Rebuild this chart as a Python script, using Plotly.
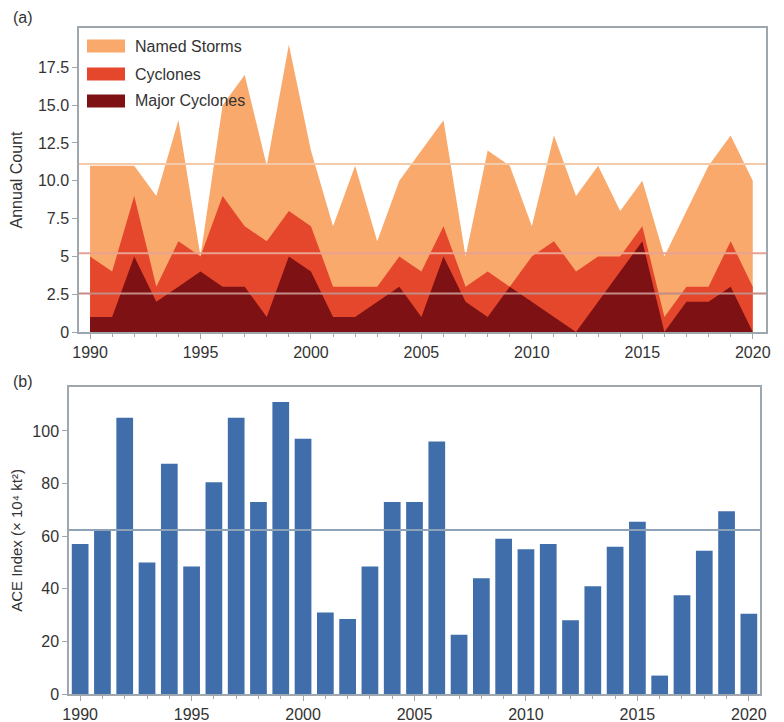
import plotly.graph_objects as go

years = list(range(1990, 2021))
named_storms = [11, 11, 11, 9, 14, 5, 15, 17, 11, 19, 12, 7, 11, 6, 10, 12, 14, 5, 12, 11,
                7, 13, 9, 11, 8, 10, 5, 8, 11, 13, 10]
cyclones = [5, 4, 9, 3, 6, 5, 9, 7, 6, 8, 7, 3, 3, 3, 5, 4, 7, 3, 4, 3,
            5, 6, 4, 5, 5, 7, 1, 3, 3, 6, 3]
major_cyclones = [1, 1, 5, 2, 3, 4, 3, 3, 1, 5, 4, 1, 1, 2, 3, 1, 5, 2, 1, 3,
                  2, 1, 0, 2, 4, 6, 0, 2, 2, 3, 0]
ace_index = [57, 62, 105, 50, 87.5, 48.5, 80.5, 105, 73, 111, 97, 31, 28.5, 48.5, 73, 73,
             96, 22.5, 44, 59, 55, 57, 28, 41, 56, 65.5, 7, 37.5, 54.5, 69.5, 30.5]

series_names = ["Named Storms", "Cyclones", "Major Cyclones"]
series_colors = ["#F9A96B", "#E5472C", "#7E1113"]
mean_counts = [11.1, 5.2, 2.55]
mean_colors = ["#F4CBAA", "#E9A291", "#C48C86"]
ace_mean = 62.3

count_ticks = [0, 2.5, 5, 7.5, 10, 12.5, 15, 17.5]
count_ticktext = ["0", "2.5", "5", "7.5", "10.0", "12.5", "15.0", "17.5"]
year_ticks = [1990, 1995, 2000, 2005, 2010, 2015, 2020]
ace_ticks = [0, 20, 40, 60, 80, 100]

# the page body adds an 8px offset; figure is sized to fill the rest of the window
OFF = 8
W, H = 784 - OFF, 722 - OFF
FONT = "Liberation Sans, Arial, sans-serif"
TXT = "#333333"
AX = "#9EA6AE"


def px(x):
    return (x - OFF) / W


def py(y):
    return 1 - (y - OFF) / H


fig = go.Figure()

for vals, name, col in zip([named_storms, cyclones, major_cyclones], series_names, series_colors):
    fig.add_trace(go.Scatter(x=years, y=vals, name=name, mode="lines",
                             line=dict(width=0, color=col), fill="tozeroy",
                             fillcolor=col, xaxis="x", yaxis="y", showlegend=False))

fig.add_trace(go.Bar(x=years, y=ace_index, marker=dict(color="#3F6EAB", line=dict(width=0)),
                     width=0.75, xaxis="x2", yaxis="y2", showlegend=False, name="ACE"))

shapes = []
for m, c in zip(mean_counts, mean_colors):
    shapes.append(dict(type="line", xref="x domain", yref="y", x0=0, x1=1, y0=m, y1=m,
                       line=dict(color=c, width=2), layer="above"))
shapes.append(dict(type="line", xref="x2 domain", yref="y2", x0=0, x1=1, y0=ace_mean, y1=ace_mean,
                   line=dict(color="#8FA3B8", width=2), layer="above"))

# legend patches (manual legend, top-left of panel a)
annotations = []
leg_y = [46, 74, 101]
for name, col, yy in zip(series_names, series_colors, leg_y):
    shapes.append(dict(type="rect", xref="paper", yref="paper",
                       x0=px(87), x1=px(125), y0=py(yy + 6.5), y1=py(yy - 6.5),
                       fillcolor=col, line=dict(width=0), layer="above"))
    annotations.append(dict(text=name, xref="paper", yref="paper", x=px(133), y=py(yy),
                            xanchor="left", yanchor="middle", showarrow=False,
                            font=dict(size=16, color=TXT, family=FONT)))

annotations.append(dict(text="(a)", xref="paper", yref="paper", x=px(11), y=py(18),
                        xanchor="left", yanchor="middle", showarrow=False,
                        font=dict(size=16, color=TXT, family=FONT)))
annotations.append(dict(text="(b)", xref="paper", yref="paper", x=px(11), y=py(381),
                        xanchor="left", yanchor="middle", showarrow=False,
                        font=dict(size=16, color=TXT, family=FONT)))

axis_common = dict(showgrid=False, zeroline=False, showline=True, linecolor=AX, linewidth=1.5,
                   mirror=True, ticks="outside", ticklen=5, tickcolor=AX, automargin=False,
                   tickfont=dict(size=16, color=TXT, family=FONT))

fig.update_layout(
    width=W, height=H, margin=dict(l=0, r=0, t=0, b=0, autoexpand=False),
    paper_bgcolor="white", plot_bgcolor="white",
    font=dict(family=FONT, color=TXT),
    shapes=shapes, annotations=annotations,
    xaxis=dict(domain=[px(79), px(766)], anchor="y", range=[1989.5, 2020.6],
               tickvals=year_ticks, minor=dict(dtick=1, ticks="outside", ticklen=3, tickcolor=AX),
               **axis_common),
    yaxis=dict(domain=[py(332), py(28)], anchor="x", range=[0, 20.1],
               tickvals=count_ticks, ticktext=count_ticktext,
               title=dict(text="Annual Count", font=dict(size=16, color=TXT, family=FONT), standoff=14),
               **axis_common),
    xaxis2=dict(domain=[px(69), px(760)], anchor="y2", range=[1989.5, 2020.5],
                tickvals=year_ticks, minor=dict(dtick=1, ticks="outside", ticklen=3, tickcolor=AX),
                **axis_common),
    yaxis2=dict(domain=[py(694), py(387)], anchor="x2", range=[0, 116.7],
                tickvals=ace_ticks,
                title=dict(text="ACE Index (× 10⁴ kt²)", font=dict(size=15, color=TXT, family=FONT), standoff=10),
                **axis_common),
)

fig.write_html("out.html")
